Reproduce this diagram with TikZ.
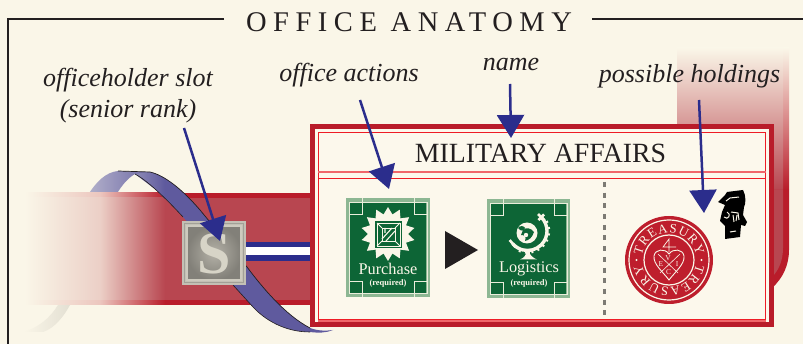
\documentclass[tikz,border=0pt]{standalone}
\usepackage{fontspec}
\setmainfont{Liberation Serif}
\usetikzlibrary{arrows.meta,decorations.text,calc}
\definecolor{paper}{HTML}{FAF6E8}
\definecolor{cardbg}{HTML}{FCF8EC}
\definecolor{ink}{HTML}{231F20}
\definecolor{navy}{HTML}{2B2D8C}
\definecolor{crim}{HTML}{B91C2A}
\definecolor{crimsoft}{HTML}{B84650}
\definecolor{lineRed}{HTML}{EE1C25}
\definecolor{linePink}{HTML}{F0666A}
\definecolor{ribbon}{HTML}{5F5A9E}
\definecolor{ribbonpale}{HTML}{B6B4CC}
\definecolor{tilegreen}{HTML}{0D6536}
\definecolor{tilerim}{HTML}{8DB793}
\definecolor{cream}{HTML}{FAF6E8}
\definecolor{sealred}{HTML}{BE1E2D}
\tikzset{
  x=1pt,y=1pt,
  pointer/.style={draw=navy,line width=2.5pt,-{Triangle[length=23pt,width=27pt]},fill=navy},
  note/.style={font=\fontsize{26}{30}\selectfont\itshape,text=ink,inner sep=0pt,align=center},
  tiletext/.style={font=\fontsize{16.3}{18}\selectfont,text=cream,inner sep=0pt},
  tilesub/.style={font=\fontsize{8.5}{10}\selectfont\bfseries,text=cream,inner sep=0pt},
  tileface/.style={fill=tilegreen,draw=tilerim,line width=4pt},
  tilemark/.style={draw=cream!85!tilerim,line width=.8pt},
  sealtext/.style={font=\fontsize{7.5}{8}\selectfont,text=cream,inner sep=0pt}
}
\newcommand{\greentile}[4]{% x0 y0 x1 y1 (y negative)
  \path[tileface] (#1+2,#2-2) rectangle (#3-2,#4+2);
  \draw[tilemark] (#1+3,#2-4) rectangle (#3-3,#4+4);
  \draw[tilemark] (#1+16,#2) -- (#1+16,#2-16) -- (#1+3,#2-16);
  \draw[tilemark] (#3-16,#2) -- (#3-16,#2-16) -- (#3-3,#2-16);
  \draw[tilemark] (#1+16,#4) -- (#1+16,#4+16) -- (#1+3,#4+16);
  \draw[tilemark] (#3-16,#4) -- (#3-16,#4+16) -- (#3-3,#4+16);
}
\begin{document}
\begin{tikzpicture}
\useasboundingbox (0,0) rectangle (803,-344);
\fill[paper] (0,0) rectangle (803,-344);

% vertical ribbon on the right
\shade[top color=paper,bottom color=crim] (677,-48) rectangle (789,-190);
\shade[top color=paper,bottom color=crimsoft] (677,-48) rectangle (783,-190);
\fill[crim] (677,-190) -- (789,-190) -- (789,-250) .. controls (789,-265) and (783,-278) .. (772,-288) -- (677,-288) -- cycle;
\fill[crimsoft] (677,-190) -- (783,-190) -- (783,-248) .. controls (783,-260) and (779,-270) .. (772,-277) -- (677,-277) -- cycle;

% faint tail of the blue ribbon
\shade[left color=paper,right color=black!9!paper] (58,-305) .. controls (50,-318) and (38,-328) .. (23,-332) -- (43,-332) .. controls (55,-328) and (64,-316) .. (70,-305) -- cycle;

% back of the blue ribbon
\begin{scope}
\clip (88,-195) .. controls (96,-182) and (106,-172) .. (118,-171) -- (150,-172) -- (160,-193) -- (135,-174) .. controls (128,-178) and (122,-185) .. (116,-195) -- cycle;
\shade[left color=ribbonpale,right color=ribbon] (85,-165) rectangle (165,-200);
\end{scope}

% red band
\shade[left color=paper,right color=crim!22!paper] (25,-193) rectangle (100,-305);
\shade[left color=crim!22!paper,right color=crim] (100,-193) rectangle (165,-305);
\fill[crim] (165,-193) rectangle (312,-305);
\shade[left color=paper,right color=crimsoft!22!paper] (25,-198) rectangle (100,-300);
\shade[left color=crimsoft!22!paper,right color=crimsoft] (100,-198) rectangle (165,-300);
\fill[crimsoft] (165,-198) rectangle (312,-300);

% stripes to the card
\fill[navy] (240,-242) rectangle (312,-261);
\fill[white] (240,-247) rectangle (312,-255);

% front of the blue ribbon
\path[fill=ribbon] (135,-174) .. controls (145,-172) and (150,-172) .. (150,-172)
  .. controls (168,-176) and (188,-196) .. (200,-210)
  .. controls (215,-228) and (230,-247) .. (247,-267)
  .. controls (262,-287) and (285,-315) .. (310,-328)
  .. controls (318,-331) and (326,-331) .. (333,-330)
  .. controls (326,-333) and (318,-333) .. (310,-332)
  .. controls (285,-332) and (265,-320) .. (253,-307)
  -- (233,-285)
  .. controls (215,-260) and (195,-230) .. (183,-217)
  .. controls (172,-205) and (150,-182) .. (135,-174) -- cycle;
\shade[left color=ribbonpale!60!ribbon,right color=ribbon,opacity=.9] (135,-174) .. controls (145,-172) and (150,-172) .. (150,-172) .. controls (156,-174) and (160,-176) .. (165,-180) -- (165,-199) .. controls (155,-188) and (145,-180) .. (135,-174) -- cycle;
\draw[ink,line width=.7pt] (118,-171) -- (150,-172)
  .. controls (168,-176) and (188,-196) .. (200,-210)
  .. controls (215,-228) and (230,-247) .. (247,-267)
  .. controls (262,-287) and (285,-315) .. (310,-328);
\draw[ink,line width=.6pt] (135,-174) .. controls (150,-182) and (172,-205) .. (183,-217);
\draw[ink,line width=.6pt] (233,-285) -- (253,-307) .. controls (265,-320) and (285,-332) .. (310,-332);

% the card
\draw[fill=cardbg,draw=crim,line width=5pt] (312.5,-126.5) rectangle (771.5,-324.5);
\draw[draw=lineRed,line width=.9pt] (318,-132) rectangle (765.5,-319);
\draw[draw=linePink,line width=2pt] (318,-172) -- (765.5,-172);
\draw[draw=lineRed,line width=.9pt] (318,-178) -- (765.5,-178);
\draw[draw=linePink,line width=1.6pt] (318,-321) -- (765.5,-321);
\node[font=\fontsize{27.8}{30}\selectfont,text=ink,inner sep=0pt] (cardname) at (540.5,-153) {MILITARY AFFAIRS};
\draw[draw=black!50!paper,line width=3pt,dash pattern=on 5pt off 5.7pt] (604,-182) -- (604,-315);

% seat tile
\fill[black!22!paper] (182,-221) rectangle (246,-285);
\shade[inner color=black!28!paper,outer color=black!48!paper] (187,-226) rectangle (241,-280);
\draw[draw=black!18!paper,line width=1.2pt] (187,-226) rectangle (241,-280);
\draw[draw=black!35!paper,line width=1pt] (184.5,-223.5) rectangle (243.5,-282.5);
\node[font=\fontsize{60}{60}\selectfont\bfseries,text=black!14!paper,inner sep=0pt] (slotS) at (214,-254) {S};

% purchase tile
\greentile{346}{-198}{430}{-297}
\fill[cream,shift={(388,-234)}] (90:27) \foreach \i in {1,...,27}{ -- ({90+\i*12.857}:{mod(\i,2)==0?27:20}) } -- cycle;
\fill[tilegreen] (375,-221) rectangle (402,-248);
\draw[cream,line width=.8pt] (377,-223) rectangle (400,-246);
\draw[cream,line width=.8pt] (377,-223) -- (382,-228) (400,-223) -- (395,-228) (377,-246) -- (382,-241) (400,-246) -- (395,-241);
\draw[cream,line width=.9pt] (382,-228) rectangle (395,-241);
\draw[cream,line width=1.1pt] (382,-239) -- (392,-228) (386,-241) -- (395,-231) (385,-228) -- (385,-233);
\node[tiletext] (purchase) at (388,-269) {Purchase};
\node[tilesub] (purchasereq) at (388,-283) {(required)};

% logistics tile
\greentile{487}{-199}{570}{-298}
\draw[cream,line width=3.4pt] (527.5,-231) ++(45:19.5) arc[start angle=45,end angle=-140,radius=19.5];
\foreach \a in {25,8,...,-125}{
  \draw[cream,line width=2pt] (527.5,-231) ++(\a:19.5) -- ++(\a:3.2);
}
\draw[cream,line width=2.8pt] (527.5,-231) ++(45:15.5) -- ++(45:8);
\draw[cream,line width=2.6pt] (527.5,-231) ++(45:19.5) ++(-45:4.5) -- ++(135:9);
\draw[cream,line width=2.6pt] (527.5,-231) ++(-140:19.5) ++(-50:4.5) -- ++(130:9);
\fill[cream] (527,-233) circle[radius=10.5];
\fill[tilegreen] (523,-230) .. controls (526,-227) and (531,-228) .. (534,-232) .. controls (532,-238) and (529,-240) .. (525,-241) .. controls (527,-236) and (524,-235) .. (521,-235) -- cycle;
\fill[tilegreen] (518,-228) .. controls (521,-232) and (524,-231) .. (525,-228) .. controls (524,-226) and (520,-225) .. (518,-228) -- cycle;
\fill[cream] (526,-235) circle[radius=2.2];
\fill[cream] (526,-250) rectangle (530,-254);
\fill[cream] (520,-259.5) .. controls (524,-258) and (526,-255) .. (527,-252) -- (529,-252) .. controls (530,-255) and (533,-258) .. (537,-259.5) -- cycle;
\node[tiletext] (logistics) at (529,-269) {Logistics};
\node[tilesub] (logisticsreq) at (529,-283) {(required)};

% sequence triangle
\fill[ink] (445,-231) -- (478,-250) -- (445,-269) -- cycle;

% seal
\begin{scope}[shift={(669,-260)}]
\fill[sealred] (0,0) circle[radius=44];
\draw[cream,line width=1.2pt] (0,0) circle[radius=40];
\draw[cream,line width=1.2pt] (0,0) circle[radius=25];
\fill[cream] (180:32.5) circle[radius=1.1] (0:32.5) circle[radius=1.1];
\path[decorate,decoration={text along path,text color=cream,text align={fit to path},
  text={|\fontsize{13}{14}\selectfont|TREASURY}}] (170:27.5) arc[start angle=170,end angle=10,radius=27.5];
\path[decorate,decoration={text along path,text color=cream,text align={fit to path},
  text={|\fontsize{13}{14}\selectfont|TREASURY}}] (-10:27.5) arc[start angle=-10,end angle=-170,radius=27.5];
\draw[cream,line width=.9pt] (0,-20) .. controls (-6,-12) and (-16,-4) .. (-15,4) .. controls (-14,11) and (-4,12) .. (0,6) .. controls (4,12) and (14,11) .. (15,4) .. controls (16,-4) and (6,-12) .. (0,-20) -- cycle;
\draw[cream,line width=.6pt] (-11,6) -- (9,-13) (11,6) -- (-9,-13);
\draw[cream,line width=.7pt] (0,8) -- (0,21) -- (-6,13) -- (7,13);
\node[sealtext] (sv) at (-1,1.5) {V};
\node[sealtext] (se) at (-8,-4) {E};
\node[sealtext] (si) at (8,-4) {I};
\node[sealtext] (sc) at (-.5,-12) {C};
\end{scope}

% holding stamp
\fill[black] (727,-192) -- (743,-190) .. controls (746,-195) and (746,-204) .. (744,-207) -- (743,-215) -- (747,-222) -- (745,-226) -- (741,-225) -- (740,-237) -- (725,-239) -- (725,-226) -- (720,-221) -- (722,-212) -- (725,-205) -- (718,-202) -- (725,-195) -- cycle;
\draw[paper,line width=1pt] (726,-201) -- (730,-198) -- (739,-197);
\draw[paper,line width=1pt] (724,-217) .. controls (728,-221) and (732,-214) .. (727,-212);
\draw[paper,line width=1pt] (731,-212) -- (738,-213) -- (739,-220) (734,-222) -- (733,-215) (737,-215) -- (736,-221);
\draw[paper,line width=1pt] (730,-232) -- (736,-231);

% frame and title
\draw[ink,line width=2pt] (224,-19.5) -- (8,-19.5) -- (8,-344);
\draw[ink,line width=2pt] (592,-19.5) -- (803,-19.5);
\node[font=\fontsize{28.5}{30}\selectfont\addfontfeature{LetterSpace=23},text=ink,inner sep=0pt] (title) at (409,-22) {OFFICE ANATOMY};

% labels
\node[note] (lslot) at (128,-96) {officeholder slot\\[1pt](senior rank)};
\node[note] (lactions) at (349,-75) {office actions};
\node[note] (lname) at (511,-65) {name};
\node[note] (lhold) at (689.5,-76) {possible holdings};

% pointers
\coordinate (p1a) at (184,-128);
\coordinate (p1b) at (220,-241);
\coordinate (p2a) at (360,-100);
\coordinate (p2b) at (389,-189);
\coordinate (p3a) at (510,-84);
\coordinate (p3b) at (511,-138);
\coordinate (p4a) at (699,-100);
\coordinate (p4b) at (704,-213);
\draw[pointer] (p1a) -- (p1b);
\draw[pointer] (p2a) -- (p2b);
\draw[pointer] (p3a) -- (p3b);
\draw[pointer] (p4a) -- (p4b);
\end{tikzpicture}
\end{document}
